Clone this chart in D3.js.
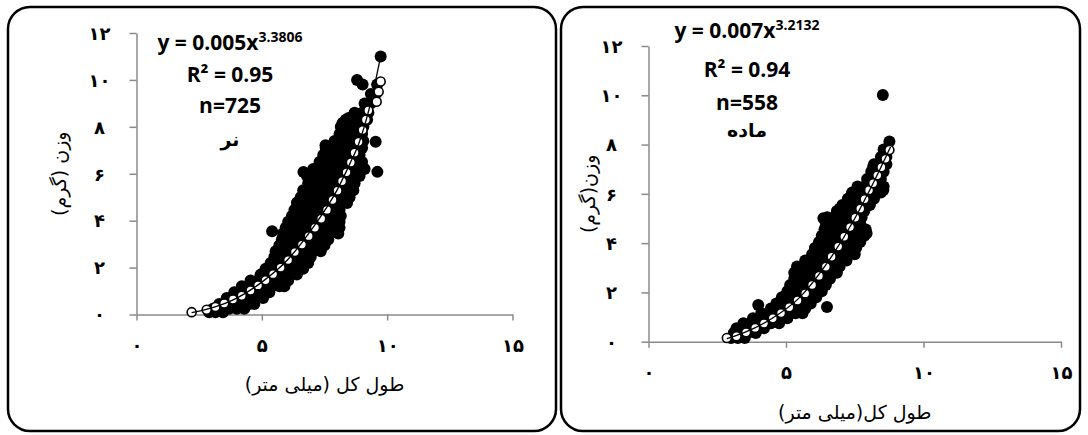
<!DOCTYPE html>
<html>
<head>
<meta charset="utf-8">
<script src="https://cdn.jsdelivr.net/npm/d3@7"></script>
<style>
  body { margin: 0; background: #fff; }
  .tick text { font-family: 'DejaVu Sans', sans-serif; font-weight: bold; font-size: 18px; fill: #000; }
</style>
</head>
<body>
<svg id="chart" width="1088" height="435"></svg>
<script>
const xTicks = [0, 5, 10, 15]
const yTicks = [0, 2, 4, 6, 8, 10, 12]

const maleRows = [
  [0.10, [2.9, 3.15, 3.45]],
  [0.25, [3.05, 3.35, 3.7, 4.0, 4.3]],
  [0.45, [3.3, 3.6, 3.9, 4.2, 4.5, 4.7]],
  [0.70, [3.6, 3.9, 4.2, 4.5, 4.8, 5.05]],
  [0.95, [3.9, 4.15, 4.45, 4.75, 5.05, 5.3]],
  [1.20, [4.2, 4.5, 4.8, 5.1, 5.4, 5.7, 5.9]],
  [1.45, [4.55, 4.85, 5.15, 5.45, 5.75, 6.05]],
  [1.70, [4.95, 5.25, 5.55, 5.85, 6.15, 6.4]],
  [1.95, [5.15, 5.45, 5.75, 6.05, 6.35, 6.65]],
  [2.20, [5.35, 5.65, 5.95, 6.25, 6.55, 6.85]],
  [2.45, [5.5, 5.8, 6.1, 6.4, 6.7, 6.95]],
  [2.70, [5.55, 5.85, 6.15, 6.45, 6.75, 7.05, 7.35]],
  [2.95, [5.7, 6.0, 6.3, 6.6, 6.9, 7.2, 7.5]],
  [3.20, [5.8, 6.1, 6.4, 6.7, 7.0, 7.3, 7.65]],
  [3.45, [5.85, 6.15, 6.45, 6.75, 7.05, 7.35, 7.7, 8.05]],
  [3.70, [5.95, 6.25, 6.55, 6.85, 7.15, 7.45, 7.75, 8.1]],
  [3.95, [6.05, 6.35, 6.65, 6.95, 7.25, 7.55, 7.85, 8.1]],
  [4.20, [6.2, 6.5, 6.8, 7.1, 7.4, 7.7, 8.0, 8.15]],
  [4.45, [6.3, 6.6, 6.9, 7.2, 7.5, 7.8, 8.1]],
  [4.75, [6.4, 6.7, 7.0, 7.3, 7.6, 7.9, 8.2, 8.4]],
  [5.00, [6.55, 6.85, 7.15, 7.45, 7.75, 8.05, 8.35, 8.5]],
  [5.30, [6.65, 6.95, 7.25, 7.55, 7.85, 8.15, 8.45, 8.65]],
  [5.60, [6.85, 7.15, 7.45, 7.75, 8.05, 8.35, 8.7]],
  [5.90, [6.8, 7.1, 7.4, 7.7, 8.0, 8.3, 8.6, 8.9]],
  [6.20, [7.05, 7.35, 7.65, 7.95, 8.25, 8.55, 8.85, 9.1]],
  [6.50, [7.3, 7.6, 7.9, 8.2, 8.5, 8.8, 9.0]],
  [6.80, [7.45, 7.75, 8.05, 8.35, 8.65, 8.9]],
  [7.10, [7.55, 7.85, 8.15, 8.45, 8.75, 9.0]],
  [7.40, [7.9, 8.2, 8.5, 8.8, 9.05]],
  [7.70, [8.1, 8.4, 8.7, 9.0]],
  [8.00, [8.15, 8.45, 8.75, 9.05]],
  [8.30, [8.35, 8.65, 8.95, 9.2]],
  [8.60, [8.7, 9.0, 9.25]],
  [9.00, [9.1, 9.35]],
  [9.40, [9.35, 9.55]],
  [9.80, [9.6]]
]
const maleOutliers = [
  [9.74, 11.0], [8.8, 10.0], [9.02, 9.8], [9.54, 7.36], [9.61, 6.08], [5.41, 3.55],
  [6.66, 6.07], [6.42, 4.79], [7.42, 6.58], [8.22, 8.16], [8.46, 8.38], [7.54, 7.22]
]
// Male: predicted weights (open circles)
const maleFitted = [
  [2.2, 0.1], [2.8, 0.2], [3.15, 0.32], [3.5, 0.47], [3.85, 0.64], [4.2, 0.8], [4.55, 1.02],
  [4.85, 1.24], [5.15, 1.46], [5.45, 1.72], [5.75, 2.0], [6.05, 2.32], [6.32, 2.66], [6.6, 2.98],
  [6.87, 3.34], [7.12, 3.7], [7.37, 4.08], [7.6, 4.46], [7.82, 4.88], [8.02, 5.28], [8.2, 5.68],
  [8.38, 6.06], [8.55, 6.48], [8.7, 6.9], [8.86, 7.36], [9.02, 7.86], [9.15, 8.3], [9.25, 8.7],
  [9.58, 9.07], [9.66, 9.5], [9.74, 9.93]
]
// Male: power trend line
const maleTrend = [
  [2.2, 0.08], [3, 0.28], [4, 0.7], [5, 1.38], [6, 2.3], [7, 3.65], [8, 5.3],
  [8.5, 6.4], [8.87, 7.29], [9.27, 8.72], [9.72, 10.9]
]

// Female: observed weights as rows [weight, [lengths...]]
const femaleRows = [
  [0.15, [3.0, 3.25, 3.5]],
  [0.35, [3.1, 3.35, 3.6, 3.9]],
  [0.55, [3.2, 3.45, 3.7, 3.95, 4.2]],
  [0.75, [3.45, 3.7, 3.95, 4.2, 4.45, 4.75]],
  [0.95, [3.8, 4.05, 4.3, 4.55, 4.8, 5.05]],
  [1.15, [4.1, 4.35, 4.6, 4.85, 5.1, 5.35, 5.6]],
  [1.35, [4.45, 4.7, 4.95, 5.2, 5.45, 5.7]],
  [1.55, [4.65, 4.9, 5.15, 5.4, 5.65, 5.9]],
  [1.80, [4.85, 5.1, 5.35, 5.6, 5.85, 6.1]],
  [2.05, [5.05, 5.3, 5.55, 5.8, 6.05, 6.3]],
  [2.30, [5.15, 5.4, 5.65, 5.9, 6.15, 6.45]],
  [2.55, [5.3, 5.55, 5.8, 6.05, 6.3, 6.6]],
  [2.80, [5.3, 5.55, 5.8, 6.05, 6.3, 6.55, 6.85]],
  [3.05, [5.4, 5.65, 5.9, 6.15, 6.4, 6.7, 6.95]],
  [3.30, [5.7, 5.95, 6.2, 6.45, 6.7, 6.95, 7.2]],
  [3.55, [5.95, 6.2, 6.45, 6.7, 6.95, 7.25, 7.5]],
  [3.80, [6.05, 6.3, 6.55, 6.8, 7.05, 7.3, 7.55]],
  [4.05, [6.2, 6.45, 6.7, 6.95, 7.2, 7.45, 7.7]],
  [4.30, [6.3, 6.55, 6.8, 7.05, 7.3, 7.55, 7.85]],
  [4.55, [6.4, 6.65, 6.9, 7.15, 7.4, 7.65, 7.9]],
  [4.80, [6.45, 6.7, 6.95, 7.2, 7.45, 7.7]],
  [5.05, [6.5, 6.75, 7.0, 7.25, 7.5, 7.75]],
  [5.30, [6.85, 7.1, 7.35, 7.6, 7.85]],
  [5.55, [7.05, 7.3, 7.55, 7.8, 8.05]],
  [5.80, [7.25, 7.5, 7.75, 8.0, 8.2]],
  [6.05, [7.4, 7.65, 7.9, 8.15, 8.45]],
  [6.30, [7.6, 7.85, 8.1, 8.35, 8.55]],
  [6.60, [7.95, 8.2, 8.45]],
  [6.90, [8.1, 8.35, 8.55]],
  [7.20, [8.2, 8.45, 8.65]],
  [7.50, [8.45, 8.65]],
  [7.80, [8.55]]
]
const femaleOutliers = [
  [8.52, 10.01], [8.76, 8.12], [3.99, 1.49], [6.49, 1.41], [6.36, 5.01], [6.96, 5.41],
  [8.54, 6.16], [7.93, 4.4], [8.17, 7.1], [7.99, 6.56]
]
// Female: predicted weights (open circles)
const femaleFitted = [
  [2.85, 0.15], [3.2, 0.22], [3.55, 0.38], [3.88, 0.56], [4.2, 0.74], [4.52, 0.95], [4.82, 1.16],
  [5.12, 1.4], [5.42, 1.67], [5.7, 1.96], [5.95, 2.3], [6.2, 2.67], [6.45, 3.04], [6.66, 3.45],
  [6.9, 3.86], [7.12, 4.26], [7.33, 4.65], [7.52, 5.03], [7.7, 5.4], [7.86, 5.78], [8.02, 6.15],
  [8.17, 6.43], [8.32, 6.75], [8.47, 7.08], [8.62, 7.42], [8.76, 7.78]
]
const femaleTrend = [
  [2.85, 0.12], [3.5, 0.38], [4.5, 0.95], [5.5, 1.8], [6.5, 3.2], [7.5, 5.0], [8.2, 6.5], [8.8, 7.9]
]

const maleNotes = ['y = 0.005x', '3.3806', 'R² = 0.95', 'n=725', 'نر']
const femaleNotes = ['y = 0.007x', '3.2132', 'R² = 0.94', 'n=558', 'ماده']
const xTitles = ['طول کل (میلی متر)', 'طول کل(میلی متر)']
const yTitles = ['وزن (گرم)', 'وزن(گرم)']

const fa = n => String(n).replace(/\d/g, d => '۰۱۲۳۴۵۶۷۸۹'[d])
const unpack = rows => rows.flatMap(([w, ls]) => ls.map(l => [l, w]))

const panels = [
  {
    frame: [8, 7, 556, 431], plot: [136.5, 512.5, 33, 314.5],
    observed: unpack(maleRows).concat(maleOutliers), fitted: maleFitted, trend: maleTrend,
    notes: maleNotes, noteX: 230, noteY: [50, 82, 113, 146],
    xTitle: xTitles[0], xTitleY: 391, yTitle: yTitles[0], yTitleX: 59
  },
  {
    frame: [561, 7, 1080, 431], plot: [648.5, 1061, 46, 341.7],
    observed: unpack(femaleRows).concat(femaleOutliers), fitted: femaleFitted, trend: femaleTrend,
    notes: femaleNotes, noteX: 747, noteY: [38, 77, 110, 137],
    xTitle: xTitles[1], xTitleY: 419, yTitle: yTitles[1], yTitleX: 588
  }
]

const svg = d3.select('#chart')

function drawPanel (p) {
  const [fx0, fy0, fx1, fy1] = p.frame
  svg.append('rect')
    .attr('x', fx0).attr('y', fy0)
    .attr('width', fx1 - fx0).attr('height', fy1 - fy0)
    .attr('rx', 22).attr('ry', 22)
    .attr('fill', '#fff').attr('stroke', '#000').attr('stroke-width', 2.5)

  const [l, r, t, b] = p.plot
  const x = d3.scaleLinear().domain([0, 15]).range([l, r])
  const y = d3.scaleLinear().domain([0, 12]).range([b, t])

  const gx = svg.append('g').attr('transform', `translate(0,${b})`)
    .call(d3.axisBottom(x).tickValues(xTicks).tickSize(6).tickSizeOuter(0).tickFormat(fa))
  gx.selectAll('text').attr('y', 31).attr('dy', '0.35em')

  const gy = svg.append('g').attr('transform', `translate(${l},0)`)
    .call(d3.axisLeft(y).tickValues(yTicks).tickSize(7).tickSizeOuter(0).tickFormat(fa))
  gy.selectAll('text').attr('x', -37).attr('dy', '0.35em').attr('text-anchor', 'middle')

  svg.selectAll('.domain, .tick line').attr('stroke', '#8a8a8a').attr('stroke-width', 1.5)

  svg.append('g').selectAll('circle').data(p.observed).enter().append('circle')
    .attr('cx', d => x(d[0])).attr('cy', d => y(d[1])).attr('r', 6).attr('fill', '#000')

  svg.append('g').selectAll('circle').data(p.fitted).enter().append('circle')
    .attr('cx', d => x(d[0])).attr('cy', d => y(d[1])).attr('r', 4.5)
    .attr('fill', '#fff').attr('stroke', '#000').attr('stroke-width', 1.6)

  const line = d3.line().x(d => x(d[0])).y(d => y(d[1])).curve(d3.curveMonotoneX)
  svg.append('path').datum(p.trend).attr('d', line)
    .attr('fill', 'none').attr('stroke', '#000').attr('stroke-width', 1.3)

  // Equation block
  const notes = svg.append('g').attr('font-family', "'Open Sans', sans-serif")
    .attr('font-weight', 'bold').attr('text-anchor', 'middle').attr('fill', '#000')
  const eq = notes.append('text').attr('x', p.noteX).attr('y', p.noteY[0]).attr('font-size', 21)
  eq.append('tspan').text(p.notes[0])
  eq.append('tspan').attr('font-size', 14).attr('dy', -8).text(p.notes[1])
  notes.append('text').attr('x', p.noteX).attr('y', p.noteY[1]).attr('font-size', 21).text(p.notes[2])
  notes.append('text').attr('x', p.noteX).attr('y', p.noteY[2]).attr('font-size', 21).text(p.notes[3])
  notes.append('text').attr('x', p.noteX).attr('y', p.noteY[3])
    .attr('font-family', "'DejaVu Sans', sans-serif").attr('font-size', 19).attr('direction', 'rtl')
    .text(p.notes[4])

  // Axis titles
  svg.append('text').attr('x', (l + r) / 2).attr('y', p.xTitleY)
    .attr('font-family', "'DejaVu Sans', sans-serif").attr('font-size', 19)
    .attr('text-anchor', 'middle').attr('direction', 'rtl').text(p.xTitle)
  svg.append('text')
    .attr('transform', `translate(${p.yTitleX},${(t + b) / 2}) rotate(-90)`)
    .attr('font-family', "'DejaVu Sans', sans-serif").attr('font-size', 19)
    .attr('text-anchor', 'middle').attr('direction', 'rtl').attr('dy', '0.35em').text(p.yTitle)
}

panels.forEach(drawPanel)
</script>
</body>
</html>
